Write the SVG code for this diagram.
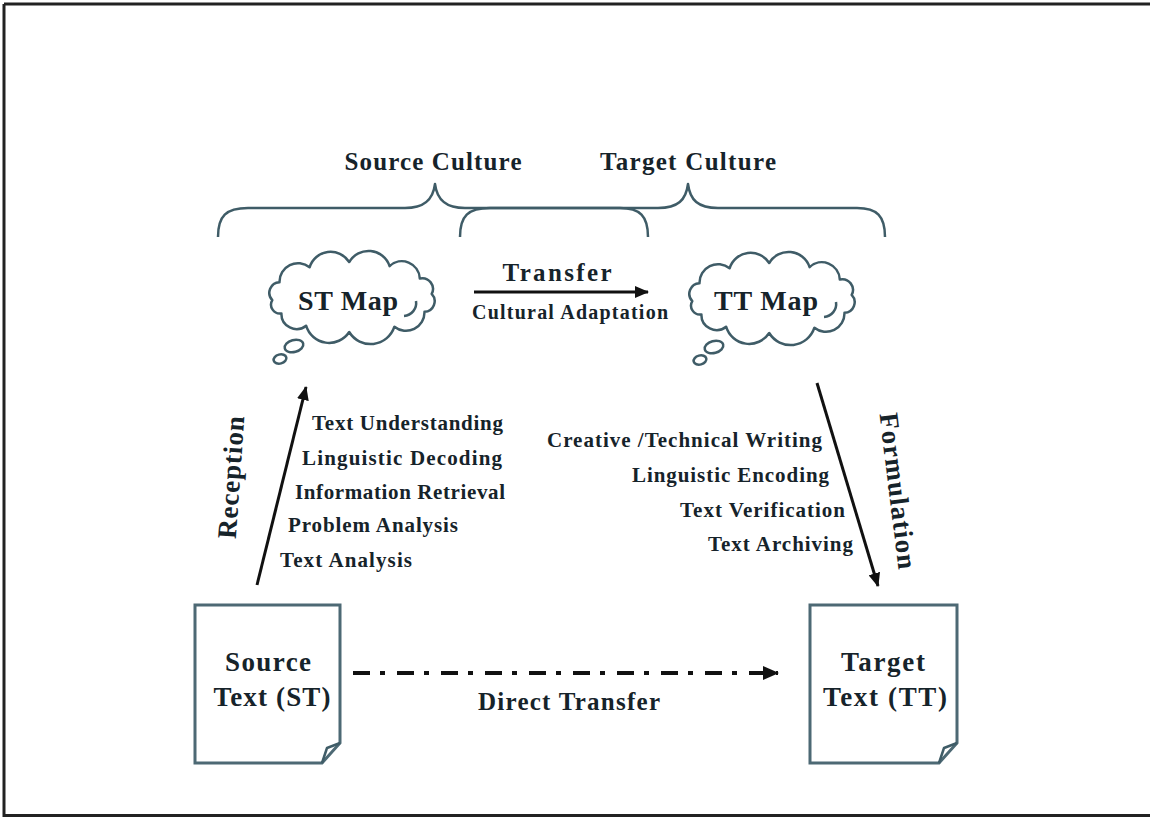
<svg xmlns="http://www.w3.org/2000/svg" width="1150" height="817" viewBox="0 0 1150 817">
  <style>
    .t { font-family: "Liberation Serif", "Times New Roman", serif; font-weight: bold; fill: #16232a; }
    .shape { fill: none; stroke: #3f5c67; stroke-width: 2.5; stroke-linejoin: round; }
    .paper { fill: #ffffff; stroke: #4d6974; stroke-width: 3; stroke-linejoin: miter; }
    .arrow { fill: none; stroke: #111111; stroke-width: 3; }
    .dashed { fill: none; stroke: #111111; stroke-width: 4; stroke-dasharray: 17 10 5 12; }
    .frame { fill: none; stroke: #222222; stroke-width: 3; }
  </style>
  <defs>
    <marker id="head" viewBox="0 0 14 12" refX="13" refY="6" markerWidth="14" markerHeight="12" markerUnits="userSpaceOnUse" orient="auto">
      <path d="M0,0 L14,6 L0,12 z" fill="#111111"/>
    </marker>
    <marker id="headBig" viewBox="0 0 16 14" refX="15" refY="7" markerWidth="16" markerHeight="14" markerUnits="userSpaceOnUse" orient="auto">
      <path d="M0,0 L16,7 L0,14 z" fill="#111111"/>
    </marker>
    <!-- thought cloud centred on (0,0) with its trailing bubbles -->
    <g id="cloud">
      <path class="shape" fill="#ffffff" d="M-79.7,3.1
        A10.6,10.6 0 0 1 -72.5,-14.8
        A18.5,18.5 0 0 1 -42.4,-29.7
        A22,22 0 0 1 -2.8,-35
        A22.3,22.3 0 0 1 37.6,-30.9
        A18,18 0 0 1 67.8,-18.5
        A10.7,10.7 0 0 1 79.7,-3.1
        A10.6,10.6 0 0 1 72.5,14.8
        A18.5,18.5 0 0 1 42.4,29.7
        A25,25 0 0 1 -2.8,35
        A24,24 0 0 1 -45.9,28.7
        A15.2,15.2 0 0 1 -70.6,16.4
        A8.9,8.9 0 0 1 -79.7,3.1 Z"/>
      <path class="shape" d="M52,19 A13,13 0 0 0 64,4"/>
      <ellipse class="shape" cx="-58" cy="49" rx="9.5" ry="6" transform="rotate(-15 -58 49)"/>
      <ellipse class="shape" cx="-72" cy="62" rx="6.5" ry="4.5" transform="rotate(-15 -72 62)"/>
    </g>
  </defs>

  <!-- page frame -->
  <path class="frame" d="M4,4 H1150 M4,4 V815.5 H1150"/>

  <!-- culture braces -->
  <g id="source-culture">
    <path class="shape" d="M218,237 C218,216 226,208 248,208 L405,208 C424,208 433,200 435,184 C437,200 446,208 465,208 L620,208 C640,208 648,216 648,237"/>
    <text class="t" x="433" y="170" font-size="25" text-anchor="middle" textLength="177" lengthAdjust="spacing">Source Culture</text>
  </g>
  <g id="target-culture">
    <path class="shape" d="M460,237 C460,216 468,208 490,208 L658,208 C678,208 686,200 688,184 C690,200 698,208 718,208 L857,208 C877,208 885,216 885,237"/>
    <text class="t" x="688" y="170" font-size="25" text-anchor="middle" textLength="176" lengthAdjust="spacing">Target Culture</text>
  </g>

  <!-- mental maps -->
  <g id="st-map">
    <use href="#cloud" transform="translate(352,297)"/>
    <text class="t" x="348" y="310" font-size="28" text-anchor="middle" textLength="100" lengthAdjust="spacing">ST Map</text>
  </g>
  <g id="tt-map">
    <use href="#cloud" transform="translate(772,298)"/>
    <text class="t" x="766" y="310" font-size="28" text-anchor="middle" textLength="104" lengthAdjust="spacing">TT Map</text>
  </g>

  <!-- documents -->
  <g id="source-text">
    <path class="paper" d="M195,605 H340 V743 L322,763 H195 Z"/>
    <path class="shape" d="M322,763 L327,748 L340,743"/>
    <text class="t" x="268" y="671" font-size="27" text-anchor="middle" textLength="86" lengthAdjust="spacing">Source</text>
    <text class="t" x="272" y="706" font-size="27" text-anchor="middle" textLength="117" lengthAdjust="spacing">Text (ST)</text>
  </g>
  <g id="target-text">
    <path class="paper" d="M810,605 H957 V743 L939,763 H810 Z"/>
    <path class="shape" d="M939,763 L944,748 L957,743"/>
    <text class="t" x="883" y="671" font-size="27" text-anchor="middle" textLength="84" lengthAdjust="spacing">Target</text>
    <text class="t" x="885" y="706" font-size="27" text-anchor="middle" textLength="124" lengthAdjust="spacing">Text (TT)</text>
  </g>

  <!-- connectors -->
  <g id="connectors">
    <line class="arrow" x1="474" y1="292" x2="648" y2="292" marker-end="url(#head)"/>
    <line class="arrow" x1="257" y1="585" x2="306" y2="387" marker-end="url(#head)"/>
    <line class="arrow" x1="817" y1="383" x2="878" y2="586" marker-end="url(#head)"/>
    <line class="dashed" x1="353" y1="673" x2="778" y2="673" marker-end="url(#headBig)"/>
  </g>

  <!-- connector labels -->
  <g id="labels">
    <text class="t" x="557" y="281" font-size="25" text-anchor="middle" textLength="109" lengthAdjust="spacing">Transfer</text>
    <text class="t" x="570" y="319" font-size="20" text-anchor="middle" textLength="196" lengthAdjust="spacing">Cultural Adaptation</text>
    <text class="t" x="569" y="710" font-size="25" text-anchor="middle" textLength="182" lengthAdjust="spacing">Direct Transfer</text>

    <text class="t" font-size="27" text-anchor="middle" textLength="123" lengthAdjust="spacing" transform="translate(240,478) rotate(-86)">Reception</text>
    <text class="t" font-size="27" text-anchor="middle" textLength="157" lengthAdjust="spacing" transform="translate(889,492) rotate(83)">Formulation</text>

    <text class="t" x="312" y="430" font-size="21" textLength="191" lengthAdjust="spacing">Text Understanding</text>
    <text class="t" x="302" y="465" font-size="21" textLength="200" lengthAdjust="spacing">Linguistic Decoding</text>
    <text class="t" x="295" y="499" font-size="21" textLength="210" lengthAdjust="spacing">Information Retrieval</text>
    <text class="t" x="288" y="532" font-size="21" textLength="170" lengthAdjust="spacing">Problem Analysis</text>
    <text class="t" x="280" y="567" font-size="21" textLength="132" lengthAdjust="spacing">Text Analysis</text>

    <text class="t" x="822" y="447" font-size="21" text-anchor="end" textLength="275" lengthAdjust="spacing">Creative /Technical Writing</text>
    <text class="t" x="829" y="482" font-size="21" text-anchor="end" textLength="197" lengthAdjust="spacing">Linguistic Encoding</text>
    <text class="t" x="845" y="517" font-size="21" text-anchor="end" textLength="165" lengthAdjust="spacing">Text Verification</text>
    <text class="t" x="853" y="551" font-size="21" text-anchor="end" textLength="145" lengthAdjust="spacing">Text Archiving</text>
  </g>
</svg>
